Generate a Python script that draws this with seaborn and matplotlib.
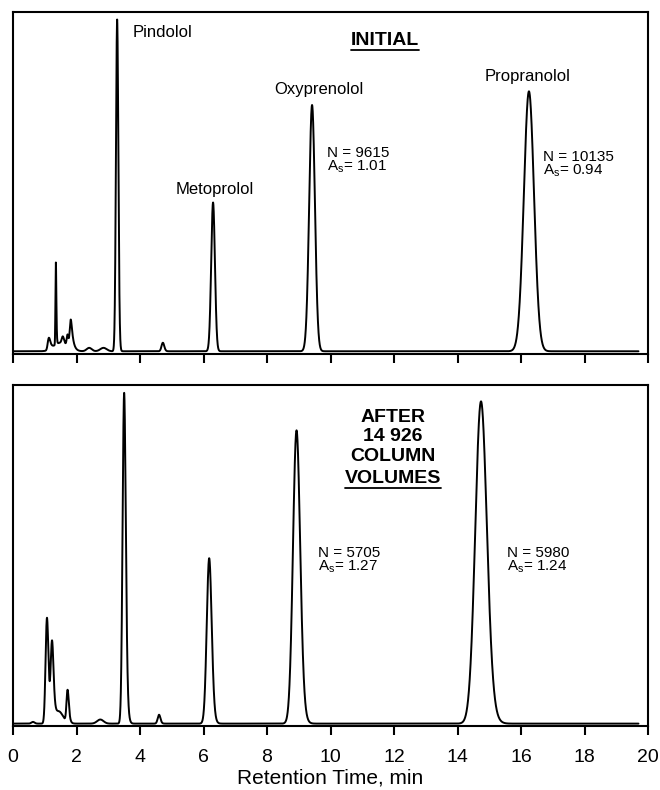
import numpy as np
import pandas as pd
import matplotlib
matplotlib.use("Agg")
import matplotlib.pyplot as plt
from matplotlib.lines import Line2D
import seaborn as sns

# ---------------- data ----------------
run_start, run_end, step = 0.0, 19.7, 0.002

# INITIAL chromatogram: peak table
init_rt    = [1.13, 1.35, 1.50, 1.57, 1.72, 1.82, 2.40, 2.85, 3.28, 4.72, 6.30, 9.42, 16.25]
init_h     = [3.5, 24.0, 2.5, 2.0, 3.5, 8.5, 1.0, 1.0, 97.0, 2.5, 43.5, 72.0, 76.0]
init_sigma = [0.03, 0.012, 0.20, 0.03, 0.025, 0.025, 0.08, 0.10, 0.036, 0.04, 0.058, 0.090, 0.160]
init_tau   = [0.05, 0.01, 0.0, 0.03, 0.02, 0.06, 0.0, 0.0, 0.012, 0.02, 0.008, 0.004, 0.0]
init_base  = 0.8

# AFTER 14 926 column volumes: peak table
after_rt    = [0.63, 1.07, 1.23, 1.45, 1.72, 2.75, 3.50, 4.60, 6.18, 8.93, 14.74]
after_h     = [0.5, 31.0, 23.0, 3.5, 9.5, 1.2, 97.0, 2.6, 48.5, 86.0, 94.5]
after_sigma = [0.05, 0.040, 0.038, 0.12, 0.03, 0.10, 0.045, 0.04, 0.072, 0.105, 0.170]
after_tau   = [0.0, 0.03, 0.035, 0.05, 0.03, 0.0, 0.03, 0.02, 0.035, 0.05, 0.08]
after_base  = 0.7

init_names = ["Pindolol", "Metoprolol", "Oxyprenolol", "Propranolol"]
init_plates = ["N = 9615", "N = 10135"]
init_asym = ["1.01", "0.94"]
after_plates = ["N = 5705", "N = 5980"]
after_asym = ["1.27", "1.24"]
init_title = "INITIAL"
after_title = ["AFTER", "14 926", "COLUMN", "VOLUMES"]
x_ticks = list(range(0, 21, 2))
x_label = "Retention Time, min"


def trace(rts, hs, sigmas, taus, base):
    t = np.arange(run_start, run_end + step / 2, step)
    y = np.full_like(t, base)
    for tr, h, s, tau in zip(rts, hs, sigmas, taus):
        g = np.exp(-0.5 * ((t - tr) / s) ** 2)
        if tau > 0:
            k = np.exp(-np.arange(0, 8 * tau, step) / tau)
            c = np.convolve(g, k)[: len(t)]
            shift = t[np.argmax(c)] - tr
            g = np.interp(t + shift, t, c)
        y += h * g / g.max()
    return pd.DataFrame({"time": t, "signal": y})


df_init = trace(init_rt, init_h, init_sigma, init_tau, init_base)
df_after = trace(after_rt, after_h, after_sigma, after_tau, after_base)

# ---------------- styling ----------------
sns.set_theme(style="ticks")
plt.rcParams["font.family"] = ["Liberation Sans", "DejaVu Sans"]
plt.rcParams["mathtext.fontset"] = "custom"
plt.rcParams["mathtext.rm"] = "Liberation Sans"
plt.rcParams["mathtext.it"] = "Liberation Sans:italic"
plt.rcParams["mathtext.bf"] = "Liberation Sans:bold"
plt.rcParams["text.color"] = "black"
plt.rcParams["axes.labelcolor"] = "black"
plt.rcParams["xtick.color"] = "black"
plt.rcParams["xtick.labelcolor"] = "black"

W, H = 660, 790
fig = plt.figure(figsize=(W / 100, H / 100), dpi=100)
ax1 = fig.add_axes([13 / W, 1 - 354 / H, 635 / W, 342 / H])
ax2 = fig.add_axes([13 / W, 1 - 726 / H, 635 / W, 341 / H])

for ax, df in ((ax1, df_init), (ax2, df_after)):
    sns.lineplot(data=df, x="time", y="signal", ax=ax, color="black",
                 linewidth=1.4, estimator=None, sort=False)
    ax.set_xlim(0, 20)
    ax.set_ylim(0, 100)
    ax.set_yticks([])
    ax.set_xticks(x_ticks)
    ax.set_ylabel("")
    ax.set_xlabel("")
    for sp in ax.spines.values():
        sp.set_visible(True)
        sp.set_linewidth(1.5)
        sp.set_color("black")
    ax.tick_params(axis="x", direction="out", length=6.5, width=1.5,
                   color="black", labelcolor="black", labelsize=14, pad=10)

ax1.tick_params(axis="x", labelbottom=False)
ax2.set_xlabel(x_label, fontsize=15, labelpad=2, color="black")

underlined = []

# ---------------- annotations: INITIAL ----------------
fs_name = 12
ax1.text(3.78, 93.9, init_names[0], fontsize=fs_name, ha="left", va="center")
ax1.text(6.36, 48.0, init_names[1], fontsize=fs_name, ha="center", va="center")
ax1.text(9.62, 77.2, init_names[2], fontsize=fs_name, ha="center", va="center")
ax1.text(16.22, 81.0, init_names[3], fontsize=fs_name, ha="center", va="center")

underlined.append(ax1.text(11.72, 91.8, init_title, fontsize=14, fontweight="bold",
                           ha="center", va="center"))

fs_n = 11
for xpos, ypos, n, a in ((9.89, 58.8, init_plates[0], init_asym[0]),
                         (16.69, 57.6, init_plates[1], init_asym[1])):
    ax1.text(xpos, ypos, n, fontsize=fs_n, ha="left", va="center")
    ax1.text(xpos, ypos - 4.1, r"A$_{\mathrm{s}}$= " + a, fontsize=fs_n,
             ha="left", va="center")

# ---------------- annotations: AFTER ----------------
for i, (line, ypos) in enumerate(zip(after_title, [90.6, 84.8, 78.9, 72.7])):
    t = ax2.text(11.97, ypos, line, fontsize=14, fontweight="bold",
                 ha="center", va="center")
    if i == len(after_title) - 1:
        underlined.append(t)

for xpos, ypos, n, a in ((9.61, 50.7, after_plates[0], after_asym[0]),
                         (15.56, 50.7, after_plates[1], after_asym[1])):
    ax2.text(xpos, ypos, n, fontsize=fs_n, ha="left", va="center")
    ax2.text(xpos, ypos - 4.1, r"A$_{\mathrm{s}}$= " + a, fontsize=fs_n,
             ha="left", va="center")

# underline the bold titles
fig.canvas.draw()
renderer = fig.canvas.get_renderer()
for t in underlined:
    bb = t.get_window_extent(renderer)
    y = (bb.y0 - 1) / (H)
    fig.add_artist(Line2D([bb.x0 / W, bb.x1 / W], [y, y], transform=fig.transFigure,
                          color="black", linewidth=1.3))

fig.savefig("out.png", dpi=100)
